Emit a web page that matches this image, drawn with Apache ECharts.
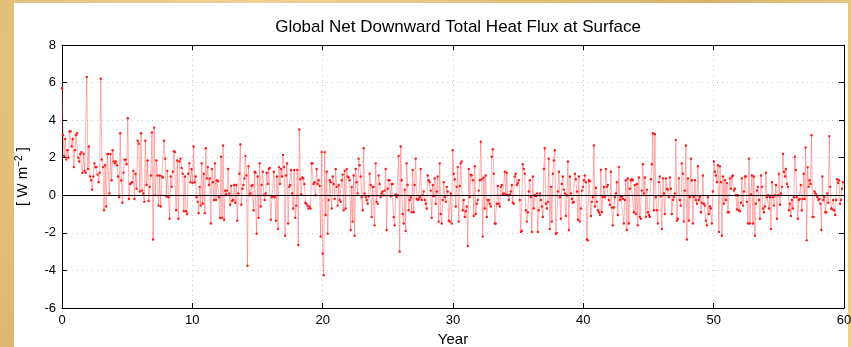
<!DOCTYPE html>
<html>
<head>
<meta charset="utf-8">
<script src="https://cdn.jsdelivr.net/npm/echarts@6/dist/echarts.min.js"></script>
<style>
  html, body { margin: 0; padding: 0; }
  body {
    width: 851px; height: 347px; overflow: hidden;
    background: radial-gradient(circle at 30% 20%, #f0d79a 0%, #e3c07a 40%, #d9b068 70%, #ecd08e 100%);
  }
  #panel {
    position: absolute; left: 14px; top: 3px; width: 834px; height: 344px;
    background: #fff;
  }
  #chart { position: absolute; left: 0; top: 0; width: 851px; height: 347px; }
</style>
</head>
<body>
<div id="panel"></div>
<div id="chart"></div>
<script>
// monthly values, in roughly 5-year blocks
const flux00 = [5.7,3.2,2.1,3.0,1.9,2.4,2.0,3.4,3.4,2.6,3.0,1.5,2.4,3.2,3.3,2.0,1.8,2.2,2.3,1.2,2.2,1.3,1.2,6.3,1.4,2.6,1.0,0.8,0.3,1.0,1.7,1.5,1.5,1.1,0.7,1.2,6.2,1.9,1.5,-0.8,1.6,-0.6,2.2,2.2,0.1,2.2,0.8,2.4,1.8,1.7,1.8,1.6,1.0,-0.1,3.3,0.8,-0.4,1.2,1.9];
const flux05 = [1.9,1.65,4.1,-0.2,0.6,0.65,0.7,1.3,-0.2,1.15,0.35,2.9,2.75,0.2,3.3,0.25,0.1,-0.35,2.9,0.55,1.85,-0.3,0.45,1.05,3.35,-2.35,3.6,0.0,1.85,1.05,-0.55,1.05,-0.6,1.0,0.95,2.9,1.95,-0.05,1.3,-0.1,-1.25,1.0,0.45,1.25,2.35,2.3,-0.8,1.85,-1.25,1.8,1.95,1.45,1.15,-0.85,1.0,-0.85,-1.0,1.15,1.7,0.7];
const flux10 = [1.4,0.65,2.6,0.7,1.0,-0.1,-0.35,-0.95,0.45,-0.55,1.7,-0.45,1.15,-0.95,2.5,0.9,1.5,0.55,0.9,-1.5,1.4,0.7,-0.25,1.7,-0.25,0.8,0.75,-0.1,-1.2,2.05,-1.2,2.65,-1.3,0.25,0.05,0.25,1.4,0.1,-0.5,0.5,-0.3,-0.25,0.55,-0.4,0.55,-1.35,0.1,1.15,2.7,-0.5,0.35,0.55,0.9,2.1,1.05,-3.75,1.55,0.0,0.1,0.5,0.55,-0.8,1.25,1.2,-2.05];
const flux15 = [1.0,-1.2,1.7,-0.6,0.55,1.25,0.0,-0.25,0.1,1.2,0.6,1.4,1.45,-1.3,-0.1,-0.05,1.25,-0.1,-1.35,1.0,-1.8,1.5,0.6,1.4,1.0,2.15,1.5,-2.15,1.05,1.7,-1.5,0.45,0.55,1.35,0.1,-0.7,1.35,-1.2,-0.55,1.35,-2.65,3.5,0.85,0.05,0.95,0.9,0.6,-0.4,-0.45,-0.55,-0.7,-0.6,-0.7,1.7,1.7,0.6,0.7,0.0,1.4,0.6,0.8,0.5,-2.2,2.3,-3.1];
const flux20 = [-4.25,2.3,-1.05,1.25,-2.05,-0.25,0.8,0.7,-0.7,1.0,0.6,-0.2,1.4,0.45,-0.55,0.55,-0.25,-0.35,0.8,1.1,-0.8,1.3,-0.7,1.4,1.0,0.95,0.8,-1.85,0.45,-1.4,1.05,-2.15,1.4,0.7,0.1,1.95,1.6,1.0,-0.1,-0.8,2.5,0.1,-0.1,-0.25,-0.45,-0.05,1.15,0.55,-1.15,0.45,0.45,-1.6,1.7,-0.35,-0.45,1.05,0.6,-0.1,0.1,0.2,0.0,0.25,1.4,-1.85,0.35,0.8];
const flux25 = [0.8,-0.05,0.6,0.6,-1.15,-1.6,0.05,-0.1,0.0,2.1,-3.0,2.6,0.8,-1.0,-1.5,0.3,-1.9,1.7,0.55,-0.8,-0.25,-0.1,-0.9,1.35,-0.9,0.55,1.95,-0.2,-0.25,-0.2,-0.1,1.4,-0.25,0.0,0.2,-0.25,-0.45,-0.7,1.05,0.8,0.7,0.25,-1.2,0.55,-0.05,0.9,-0.45,0.2,1.0,-1.4,1.7,-1.0,-1.5,-0.25,0.7,-0.1,-0.35,0.45,0.2,-1.35,-1.4,0.1,-1.5,2.4,1.15,0.85];
const flux30 = [-0.6,0.45,1.5,-1.4,0.5,1.7,1.8,-0.8,-0.25,-1.15,-0.85,-0.6,-2.7,1.4,-0.1,1.1,1.05,0.8,-1.1,1.55,-1.0,-0.45,-0.25,0.25,0.8,2.85,0.85,-2.2,0.95,-0.7,1.05,-1.15,-0.25,-0.25,-0.45,-0.6,2.05,2.45,1.15,-1.5,-1.5,-0.45,0.5,-0.45,-0.6,0.45,0.55,0.05,0.1,1.25,0.05,1.2,0.0,-0.25,0.05,0.2,0.55,-0.4,-0.45,1.0,1.15,0.55,0.65,0.8,-0.25,-1.95];
const flux35 = [-1.9,1.65,1.4,1.15,-0.8,-1.4,-0.9,0.2,0.8,-0.1,-1.95,1.0,-0.7,0.0,-0.05,0.1,-1.95,-0.8,0.1,-0.25,-0.6,-1.15,1.4,2.5,-0.45,-0.7,-0.35,1.95,-1.8,0.45,-1.4,1.15,1.85,2.4,-2.05,-2.0,0.2,1.25,-0.1,-1.25,0.6,1.0,0.3,0.1,-1.1,0.0,1.8,-1.85,1.0,0.1,-0.2,-0.4,-0.35,1.15,0.85,0.2,-1.3,1.0,-1.4,-0.7,0.25,0.45,0.8,1.05,0.7,-2.35];
const flux40 = [-2.4,0.8,0.75,-1.1,-0.35,-0.1,2.65,-0.6,0.4,-0.35,-0.8,-0.9,-1.05,1.35,-0.9,-0.1,0.45,-0.1,1.4,0.45,0.55,-0.25,-0.5,1.25,-0.65,-1.6,-0.65,-0.1,0.1,0.7,-1.05,1.5,-0.25,-0.1,-0.05,-0.2,-1.5,-0.25,0.8,-1.85,0.9,-1.5,0.35,0.8,0.85,0.8,-0.9,0.55,-1.0,0.6,-1.6,0.95,-1.15,-1.25,0.25,1.65,0.1,0.95,-1.15,0.3,-0.9,-1.05,-1.15,0.85,1.65,3.3];
const flux45 = [-0.8,3.25,-0.1,-0.8,-1.5,0.7,1.0,-0.05,-1.8,0.9,0.1,-1.0,0.9,0.35,0.3,-0.1,0.95,0.35,-1.0,-0.25,-0.1,0.1,2.95,-1.35,-1.25,0.9,-0.25,-0.55,1.7,1.15,-1.4,0.25,2.65,-2.35,0.9,-1.35,-0.1,1.95,0.8,-1.5,-0.1,0.8,-0.25,-0.45,1.55,-0.25,-0.1,-0.9,-0.4,1.05,-0.45,-0.55,-1.35,-1.6,-0.1,-1.0,-0.6,-0.7,-1.5,0.2,1.8,1.25,1.05,0.7,1.6,-1.95];
const flux50 = [1.55,0.7,-2.15,1.0,-0.45,0.8,-0.25,0.65,-0.9,-0.9,0.9,0.35,1.0,1.05,0.25,0.35,0.0,-0.75,0.0,-0.8,-0.85,-0.4,0.9,-0.55,0.2,1.0,1.0,-0.35,-1.5,1.95,-1.5,0.05,1.05,-1.5,1.0,-2.15,-0.45,0.25,0.45,-0.25,-1.25,1.05,0.45,-0.7,-0.9,-0.6,1.2,-0.1,0.0,-0.7,-0.1,-1.8,0.7,-0.1,-0.55,0.0,0.55,-1.25,0.0,1.15,-0.5,0.1,0.45,2.2,1.25,1.0];
const flux55 = [1.4,0.6,0.45,-0.8,-0.45,-1.1,-0.25,-0.7,-0.1,2.05,1.35,-0.1,-1.25,-0.25,-0.2,0.55,-0.8,-0.2,1.15,-0.2,2.55,-2.4,1.5,0.45,0.8,0.6,3.2,-1.15,-1.15,0.2,0.1,0.0,-0.1,-0.25,-0.2,-0.45,-1.85,1.0,-0.25,-0.1,-0.9,-0.9,0.1,-0.4,3.15,0.45,-0.7,-0.75,-0.25,-0.8,-1.05,-0.25,0.85,0.65,0.8,-0.45,-0.25,0.35,0.7];

// year at which each block above starts (last entry = end of record)
const blockStarts = [0, 4.88, 9.94, 15.01, 20.08, 25.14, 30.21, 35.28, 40.35, 45.41, 50.48, 55.55, 60];
const yearTicks = [0, 10, 20, 30, 40, 50, 60];
const fluxTicks = [-6, -4, -2, 0, 2, 4, 6, 8];

const blocks = [flux00, flux05, flux10, flux15, flux20, flux25,
  flux30, flux35, flux40, flux45, flux50, flux55];
const seriesData = [];
blocks.forEach((blk, k) => {
  const t0 = blockStarts[k], t1 = blockStarts[k + 1];
  blk.forEach((v, i) => seriesData.push([t0 + i * (t1 - t0) / blk.length, v]));
});

const font = '"Liberation Sans", Arial, sans-serif';
const gridLine = { show: true, lineStyle: { color: '#c8c8c8', type: [1, 4], width: 1 } };
const tickIn = { show: true, inside: true, length: 5, lineStyle: { color: '#000' } };
const frame = { show: true, onZero: false, lineStyle: { color: '#000', width: 1 } };

const chart = echarts.init(document.getElementById('chart'));
chart.setOption({
  animation: false,
  backgroundColor: 'transparent',
  title: {
    text: 'Global Net Downward Total Heat Flux at Surface',
    left: 453, top: 14, textAlign: 'center',
    textStyle: { fontFamily: font, fontSize: 17, fontWeight: 'normal', color: '#000' }
  },
  grid: { left: 62, right: 7, top: 45, bottom: 39, outerBoundsMode: 'none', containLabel: false },
  xAxis: [{
    type: 'value', min: yearTicks[0], max: yearTicks[yearTicks.length - 1], interval: 10,
    axisLine: frame, axisTick: tickIn, splitLine: gridLine,
    axisLabel: { fontFamily: font, fontSize: 13, color: '#000', margin: 6 },
    name: 'Year', nameLocation: 'middle', nameGap: 23,
    nameTextStyle: { fontFamily: font, fontSize: 15, color: '#000' }
  }, {
    type: 'value', position: 'top', min: yearTicks[0], max: yearTicks[yearTicks.length - 1], interval: 10,
    axisLine: frame, axisTick: tickIn, splitLine: { show: false }, axisLabel: { show: false }
  }],
  yAxis: [{
    type: 'value', min: fluxTicks[0], max: fluxTicks[fluxTicks.length - 1], interval: 2,
    axisLine: frame, axisTick: tickIn, splitLine: gridLine,
    axisLabel: { fontFamily: font, fontSize: 13, color: '#000', margin: 6 },
    name: '{a|[ W m}{s|−2}{a| ]}', nameLocation: 'middle', nameGap: 30, nameRotate: 90,
    nameTextStyle: {
      rich: {
        a: { fontFamily: font, fontSize: 15, color: '#000', lineHeight: 18 },
        s: { fontFamily: font, fontSize: 10, color: '#000', verticalAlign: 'top', lineHeight: 18 }
      }
    }
  }, {
    type: 'value', position: 'right', min: fluxTicks[0], max: fluxTicks[fluxTicks.length - 1], interval: 2,
    axisLine: frame, axisTick: tickIn, splitLine: { show: false }, axisLabel: { show: false }
  }],
  series: [{
    type: 'line',
    data: seriesData,
    showAllSymbol: true,
    symbol: 'circle',
    symbolSize: 2.4,
    itemStyle: { color: '#ff1a1a' },
    lineStyle: { color: 'rgba(255,70,70,0.42)', width: 1 },
    markLine: {
      silent: true, symbol: 'none', label: { show: false },
      lineStyle: { color: '#000', type: 'solid', width: 1 },
      data: [{ yAxis: 0 }]
    },
    z: 3
  }]
});
</script>
</body>
</html>
